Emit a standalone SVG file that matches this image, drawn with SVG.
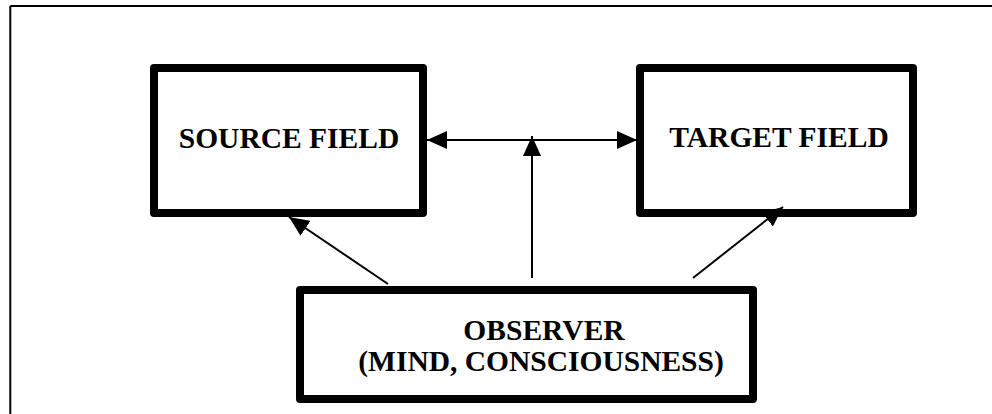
<svg xmlns="http://www.w3.org/2000/svg" width="992" height="414" viewBox="0 0 992 414">
<style>
.box{fill:#fff;stroke:#000;stroke-width:8;stroke-linejoin:round}
.lbl{font-family:"Liberation Serif","Times New Roman",serif;font-weight:bold;font-size:29.5px;fill:#000;text-anchor:middle}
.conn{stroke:#000;stroke-width:2;fill:none}
</style>
<defs>
<marker id="ah" markerUnits="userSpaceOnUse" markerWidth="20" markerHeight="18" refX="20" refY="9" orient="auto-start-reverse" viewBox="0 0 20 18">
<path d="M0,0 L20,9 L0,18 z" fill="#000"/>
</marker>
</defs>
<rect width="992" height="414" fill="#fff"/>
<g id="frame">
<path d="M10.3,6 H992 M10.3,6 V414" stroke="#000" stroke-width="2" fill="none"/>
</g>
<g id="source">
<rect class="box" x="154" y="68" width="269" height="145"/>
<text class="lbl" x="289" y="148">SOURCE FIELD</text>
</g>
<g id="target">
<rect class="box" x="640" y="68" width="273" height="145"/>
<text class="lbl" x="779" y="147">TARGET FIELD</text>
</g>
<g id="observer">
<rect class="box" x="300" y="290" width="453" height="109"/>
<text class="lbl" x="544" y="340">OBSERVER</text>
<text class="lbl" x="541" y="371">(MIND, CONSCIOUSNESS)</text>
</g>
<g id="connectors">
<line class="conn" x1="427" y1="140" x2="637" y2="140" marker-start="url(#ah)" marker-end="url(#ah)"/>
<line class="conn" x1="532" y1="278" x2="532" y2="136" marker-end="url(#ah)"/>
<line class="conn" x1="388" y1="284" x2="289" y2="217" marker-end="url(#ah)"/>
<line class="conn" x1="693" y1="278" x2="783" y2="207" marker-end="url(#ah)"/>
</g>
</svg>
